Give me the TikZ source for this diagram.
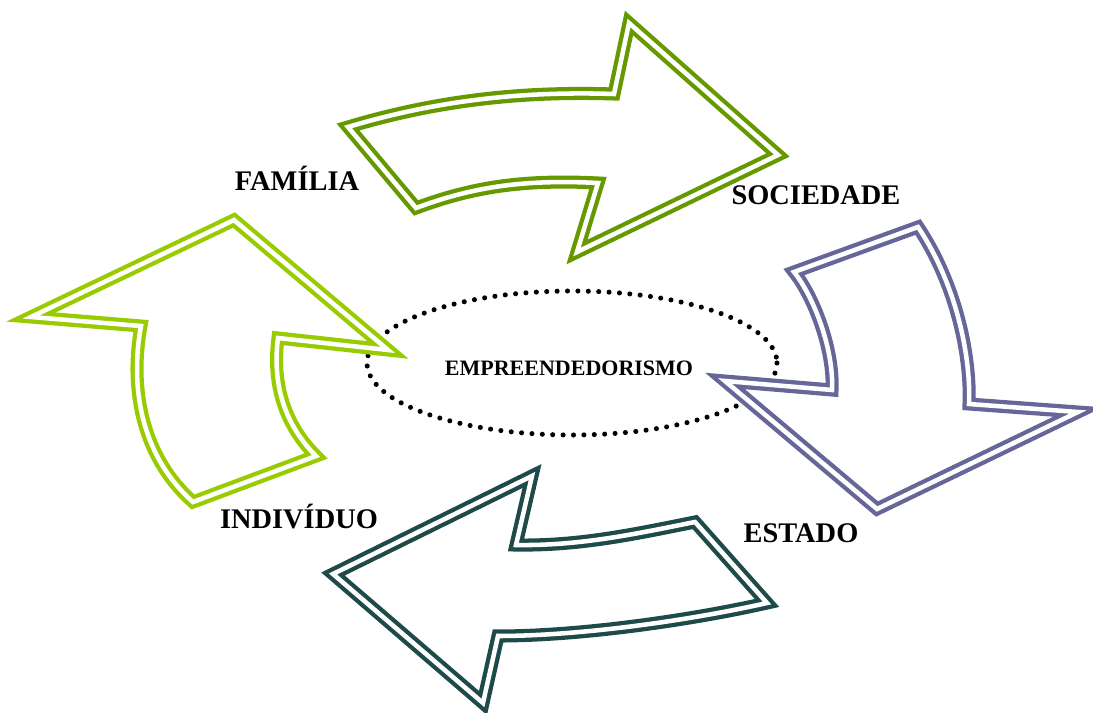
\documentclass[tikz,border=0pt]{standalone}
\usepackage{fontspec}
\setmainfont{Liberation Serif}
\usepackage{tikz}

\definecolor{verdeescuro}{RGB}{102,153,0}
\definecolor{verdeclaro}{RGB}{153,204,0}
\definecolor{roxo}{RGB}{102,102,153}
\definecolor{petroleo}{RGB}{31,74,74}

\tikzset{
  seta/.style={draw=#1, double=white, line width=3.2pt, double distance=3.4pt,
    line join=miter, fill=white},
  rotulo/.style={font=\bfseries\fontsize{21.3}{24}\selectfont, inner sep=0pt}
}

\begin{document}
\begin{tikzpicture}[x=0.75pt, y=-0.75pt]
\useasboundingbox (0,0) rectangle (1093,713);

% Dotted ellipse in the middle
\draw[line width=3.8pt, line cap=round, dash pattern=on 0pt off 7.8pt]
  (572,363) ellipse [x radius=205, y radius=72];
\node (centro) at (569,368) {\bfseries\fontsize{16.5}{18}\selectfont EMPREENDEDORISMO};

% Arrow towards SOCIEDADE (top)
\draw[seta=verdeescuro] (348,127) .. controls (438,100) and (524,91) .. (614,94)
  -- (629,23) -- (778,155) -- (577,252) -- (598,183)
  .. controls (520,179) and (470,188) .. (416,208) -- cycle;

% Arrow towards ESTADO (right)
\draw[seta=roxo] (794,272) -- (918,227)
  .. controls (958,287) and (971,360) .. (969,404)
  -- (1078,412) -- (877,509) -- (725,381) -- (832,390)
  .. controls (834,350) and (814,297) .. (794,272) -- cycle;

% Arrow towards INDIVIDUO (bottom)
\draw[seta=petroleo] (532,476) -- (516,545)
  .. controls (580,546) and (635,534) .. (695,522)
  -- (767,603)
  .. controls (687,621) and (578,636) .. (498,636)
  -- (483,703) -- (333,574) -- cycle;

% Arrow towards FAMILIA (left)
\draw[seta=verdeclaro] (234,220) -- (31,317) -- (141,326)
  .. controls (130,385) and (140,455) .. (193,502)
  -- (316,456)
  .. controls (285,425) and (272,385) .. (278,338)
  -- (388,350) -- cycle;

% Labels
\node[rotulo] (familia) at (297,178) {FAMÍLIA};
\node[rotulo] (sociedade) at (816,195) {SOCIEDADE};
\node[rotulo] (estado) at (801,533) {ESTADO};
\node[rotulo] (individuo) at (299,517) {INDIVÍDUO};

\end{tikzpicture}
\end{document}
